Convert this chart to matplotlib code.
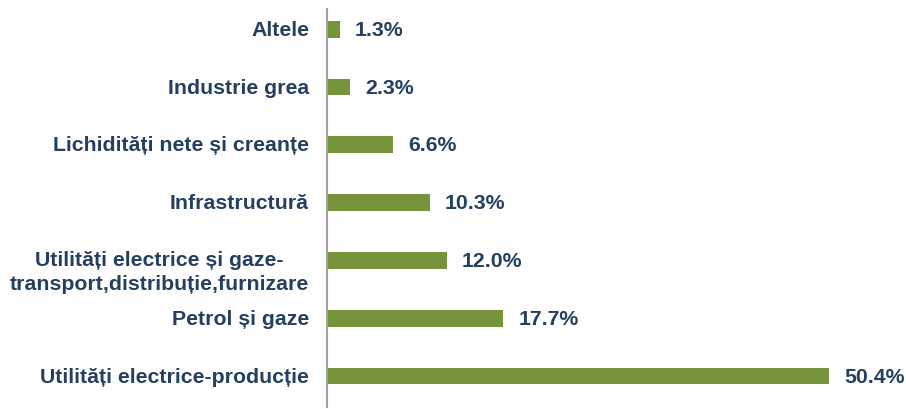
import matplotlib
matplotlib.use("Agg")
import matplotlib.pyplot as plt
from matplotlib.transforms import blended_transform_factory

categories = ["Utilități electrice-producție", "Petrol și gaze",
              "Utilități electrice și gaze-\ntransport,distribuție,furnizare",
              "Infrastructură", "Lichidități nete și creanțe",
              "Industrie grea", "Altele"]
values = [50.4, 17.7, 12.0, 10.3, 6.6, 2.3, 1.3]
value_labels = ["50.4%", "17.7%", "12.0%", "10.3%", "6.6%", "2.3%", "1.3%"]

bar_color = "#77933C"
text_color = "#243F60"
fs = 15.3

plt.rcParams['font.family'] = ['Liberation Sans', 'DejaVu Sans']

fig = plt.figure(figsize=(9.06, 4.10), dpi=100)
ax = fig.add_axes([327/906, 2/410, (906-327)/906, 398/410])

ypos = list(range(len(categories)))
ax.barh(ypos, values, height=0.29, color=bar_color)
ax.set_xlim(0, 58.1)
ax.set_ylim(-0.536, 6.35)

for s in ["top", "right", "bottom"]:
    ax.spines[s].set_visible(False)
ax.spines["left"].set_color("#A0A0A0")
ax.spines["left"].set_linewidth(1.5)
ax.set_xticks([])
ax.set_yticks([])

for y, v, lab in zip(ypos, values, value_labels):
    ax.annotate(lab, (v, y), xytext=(15, 0), textcoords="offset pixels",
                va="center", ha="left", fontsize=fs, fontweight="bold",
                color=text_color)

trans = blended_transform_factory(ax.transAxes, ax.transData)
for y, cat in zip(ypos, categories):
    dy = -11 if "\n" in cat else 0
    ax.annotate(cat, (0, y), xycoords=trans, xytext=(-18, dy),
                textcoords="offset pixels", va="center", ha="right",
                multialignment="center",
                fontsize=fs, fontweight="bold", color=text_color,
                linespacing=1.3, annotation_clip=False)

fig.savefig("out.png", dpi=100)
